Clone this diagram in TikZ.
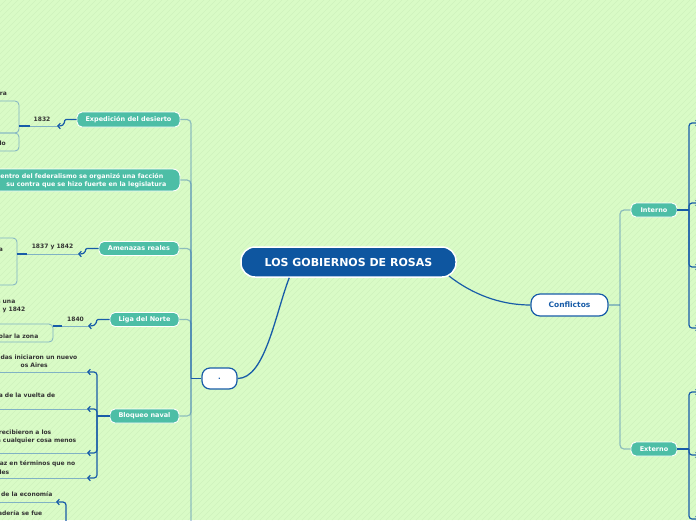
\documentclass[tikz,border=0pt]{standalone}
\usepackage{fontspec}
\setmainfont{DejaVu Sans}
\usetikzlibrary{arrows.meta}
\definecolor{bg}{RGB}{217,251,198}
\definecolor{stripe}{RGB}{207,242,189}
\definecolor{dblue}{RGB}{14,86,160}
\definecolor{lblue}{RGB}{24,92,168}
\definecolor{nodeteal}{RGB}{77,190,166}
\definecolor{txt}{RGB}{51,51,51}
\definecolor{thinln}{RGB}{128,178,196}
\definecolor{trunkc}{RGB}{30,100,175}
\begin{document}
\begin{tikzpicture}[x=1pt,y=-1pt,
  tealbox/.style={draw=white,line width=0.9pt,fill=nodeteal,rounded corners=5pt,text=white,
    font=\bfseries\fontsize{6.5}{8}\selectfont,inner sep=0pt,minimum height=14pt},
  whitebox/.style={draw=lblue,line width=1.2pt,fill=white,text=lblue,inner sep=0pt},
  outl/.style={draw=thinln,line width=0.8pt,rounded corners=4pt,inner sep=0pt},
  ltxt/.style={text=txt,font=\bfseries\fontsize{6}{7.5}\selectfont,inner sep=0pt,anchor=east},
  btxt/.style={text=txt,font=\bfseries\fontsize{6}{8}\selectfont,inner sep=0pt,anchor=east},
  lab/.style={text=txt,font=\bfseries\fontsize{6}{7.5}\selectfont,inner sep=0pt},
  uline/.style={draw=thinln,line width=0.8pt},
  trunk/.style={draw=trunkc,line width=1.2pt,opacity=0.4,rounded corners=4pt},
  bconn/.style={draw=lblue,line width=1.5pt,rounded corners=3pt},
  barrow/.style={draw=lblue,line width=1.2pt,rounded corners=3pt,-{Straight Barb[length=2.5pt,width=5.5pt]}},
]
\useasboundingbox (0,0) rectangle (696,520);
\clip (0,0) rectangle (696,520);
\fill[bg] (0,0) rectangle (696,520);
\foreach \i in {-520,-514,...,700} \draw[stripe,line width=0.5pt] (\i,520) -- (\i+520,0);

% ---------- central and main nodes ----------
\node[draw=white,line width=1.5pt,fill=dblue,rounded corners=14pt,minimum width=215pt,minimum height=30pt,
  inner sep=0pt,text=white,font=\bfseries\fontsize{11}{13}\selectfont] (root) at (348.5,262) {LOS GOBIERNOS DE ROSAS};
\node[whitebox,rounded corners=8pt,minimum width=35pt,minimum height=21pt,font=\bfseries\fontsize{7}{8}\selectfont] (dot) at (219.5,378.5) {.};
\node[whitebox,rounded corners=9pt,minimum width=77pt,minimum height=22pt,font=\bfseries\fontsize{7.5}{9}\selectfont] (conf) at (569.5,305) {Conflictos};

\draw[lblue,line width=1.3pt] (root.south west) ++(49,0) coordinate (rs)
  (rs) .. controls (275,315) and (265,378.5) .. (dot.east);
\draw[lblue,line width=1.2pt] (449,276) coordinate (re)
  (re) .. controls (472,294) and (500,305) .. (conf.west);

% ---------- right side ----------
\node[tealbox,minimum width=46pt] (int) at (654,210) {Interno};
\node[tealbox,minimum width=46pt] (ext) at (654,449) {Externo};
\coordinate (jc) at (620,305);
\draw[trunk] (conf.east) -- (jc);
\draw[trunk] (jc) |- (int.west);
\draw[trunk] (jc) |- (ext.west);

\coordinate (ji) at (689,210);
\draw[bconn] (int.east) -- (ji);
\coordinate (ic1) at (699,123);
\coordinate (ic2) at (699,203);
\coordinate (ic3) at (699,267);
\coordinate (ic4) at (699,328);
\foreach \c in {ic1,ic2,ic3,ic4} \draw[barrow] (ji) |- (\c);

\coordinate (je) at (689,449);
\draw[bconn] (ext.east) -- (je);
\coordinate (ec1) at (699,392);
\coordinate (ec2) at (699,455);
\coordinate (ec3) at (699,519);
\foreach \c in {ec1,ec2,ec3} \draw[barrow] (je) |- (\c);

% ---------- left main branches ----------
\node[tealbox,minimum width=103pt,minimum height=15pt] (exp) at (128.5,119.5) {Expedición del desierto};
\node[tealbox,minimum width=230pt,minimum height=22pt,rounded corners=7pt] (fed) at (65,180) {};
\node[ltxt,text=white,font=\bfseries\fontsize{6.3}{7.5}\selectfont] (fed1) at (163.5,176.5) {entro del federalismo se organizó una facción};
\node[ltxt,text=white,font=\bfseries\fontsize{6.3}{7.5}\selectfont] (fed2) at (166.5,184.5) {su contra que se hizo fuerte en la legislatura};
\node[tealbox,minimum width=80pt] (ame) at (139,248.5) {Amenazas reales};
\node[tealbox,minimum width=69pt] (lig) at (144.5,319.5) {Liga del Norte};
\node[tealbox,minimum width=69pt] (blo) at (144.5,416) {Bloqueo naval};

\coordinate (jl) at (191,378.5);
\coordinate (lowchild) at (180,560);
\draw[bconn] (dot.west) -- (jl);
\foreach \n in {exp,fed,ame,lig,blo} \draw[trunk] (jl) |- (\n.east);
\draw[trunk] (jl) |- (lowchild);

% ---------- Expedicion del desierto ----------
\coordinate (a1832) at (57,126);
\coordinate (u1832) at (30,126);
\node[lab] (l1832) at (42,119) {1832};
\draw[barrow] (exp.west) -- (69,119.5) .. controls (63,119.5) and (67,126) .. (a1832);
\draw[uline] (a1832) -- (u1832);
\node[outl,minimum width=49pt,minimum height=32pt] (boxA) at (-5.5,117) {};
\node[outl,minimum width=49pt,minimum height=18pt] (boxB) at (-5.5,142) {};
\coordinate (bA) at (19,126);
\draw[bconn] (u1832) -- (bA);
\node[ltxt] (tra) at (7,93.5) {ra};
\node[ltxt] (tlo) at (6,143.5) {lo};

% ---------- Amenazas reales ----------
\coordinate (a1837) at (78,254);
\coordinate (u1837) at (27,254);
\node[lab] (l1837) at (52.5,247) {1837 y 1842};
\draw[barrow] (ame.west) -- (90,248.5) .. controls (84,248.5) and (88,254) .. (a1837);
\draw[uline] (a1837) -- (u1837);
\node[outl,minimum width=47pt,minimum height=47pt] (boxC) at (-6.5,261.5) {};
\coordinate (bC) at (17,254);
\draw[bconn] (u1837) -- (bC);
\node[ltxt] (ta) at (3,249.5) {a};
\node[ltxt] (tuna) at (15.5,302) {s una};
\node[ltxt] (ty) at (25.5,309.5) {y 1842};

% ---------- Liga del Norte ----------
\coordinate (a1840) at (88,326);
\coordinate (u1840) at (62,326);
\node[lab] (l1840) at (75.5,319) {1840};
\draw[barrow] (lig.west) -- (101,319.5) .. controls (95,319.5) and (99,326) .. (a1840);
\draw[uline] (a1840) -- (u1840);
\node[outl,minimum width=83pt,minimum height=18pt] (boxD) at (11.5,333) {};
\coordinate (bD) at (53,326);
\draw[bconn] (u1840) -- (bD);
\node[btxt] (tzona) at (38.5,336) {olar la zona};

% ---------- Bloqueo naval ----------
\coordinate (jb) at (97,416);
\draw[bconn] (blo.west) -- (jb);
\coordinate (bc1) at (87,372);
\coordinate (bc2) at (87,409);
\coordinate (bc3) at (87,453);
\coordinate (bc4) at (87,478);
\foreach \c in {bc1,bc2,bc3,bc4} \draw[barrow] (jb) |- (\c);
\coordinate (bu1) at (-5,372);
\coordinate (bu2) at (-5,409);
\coordinate (bu3) at (-5,453);
\coordinate (bu4) at (-5,478);
\draw[uline] (bc1) -- (bu1);
\draw[uline] (bc2) -- (bu2);
\draw[uline] (bc3) -- (bu3);
\draw[uline] (bc4) -- (bu4);
\node[btxt] (t1a) at (77.5,357.5) {das iniciaron un nuevo};
\node[btxt] (t1b) at (48,365.5) {os Aires};
\node[btxt] (t2a) at (55.5,395) {a de la vuelta de};
\node[btxt] (t3a) at (51.5,432.5) {recibieron a los};
\node[btxt] (t3b) at (76.5,440.5) {a cualquier cosa menos};
\node[btxt] (t4a) at (75.5,464) {az en términos que no};
\node[btxt] (t4b) at (9.5,472) {les};

% ---------- bottom branch ----------
\coordinate (jbot) at (66,540);
\coordinate (abot) at (56,502);
\coordinate (ubot) at (-5,502);
\draw[barrow] (jbot) |- (abot);
\draw[uline] (abot) -- (ubot);
\node[btxt] (t5a) at (52.5,494) {de la economía};
\node[btxt] (t5b) at (42.5,513) {adería se fue};
\end{tikzpicture}
\end{document}
